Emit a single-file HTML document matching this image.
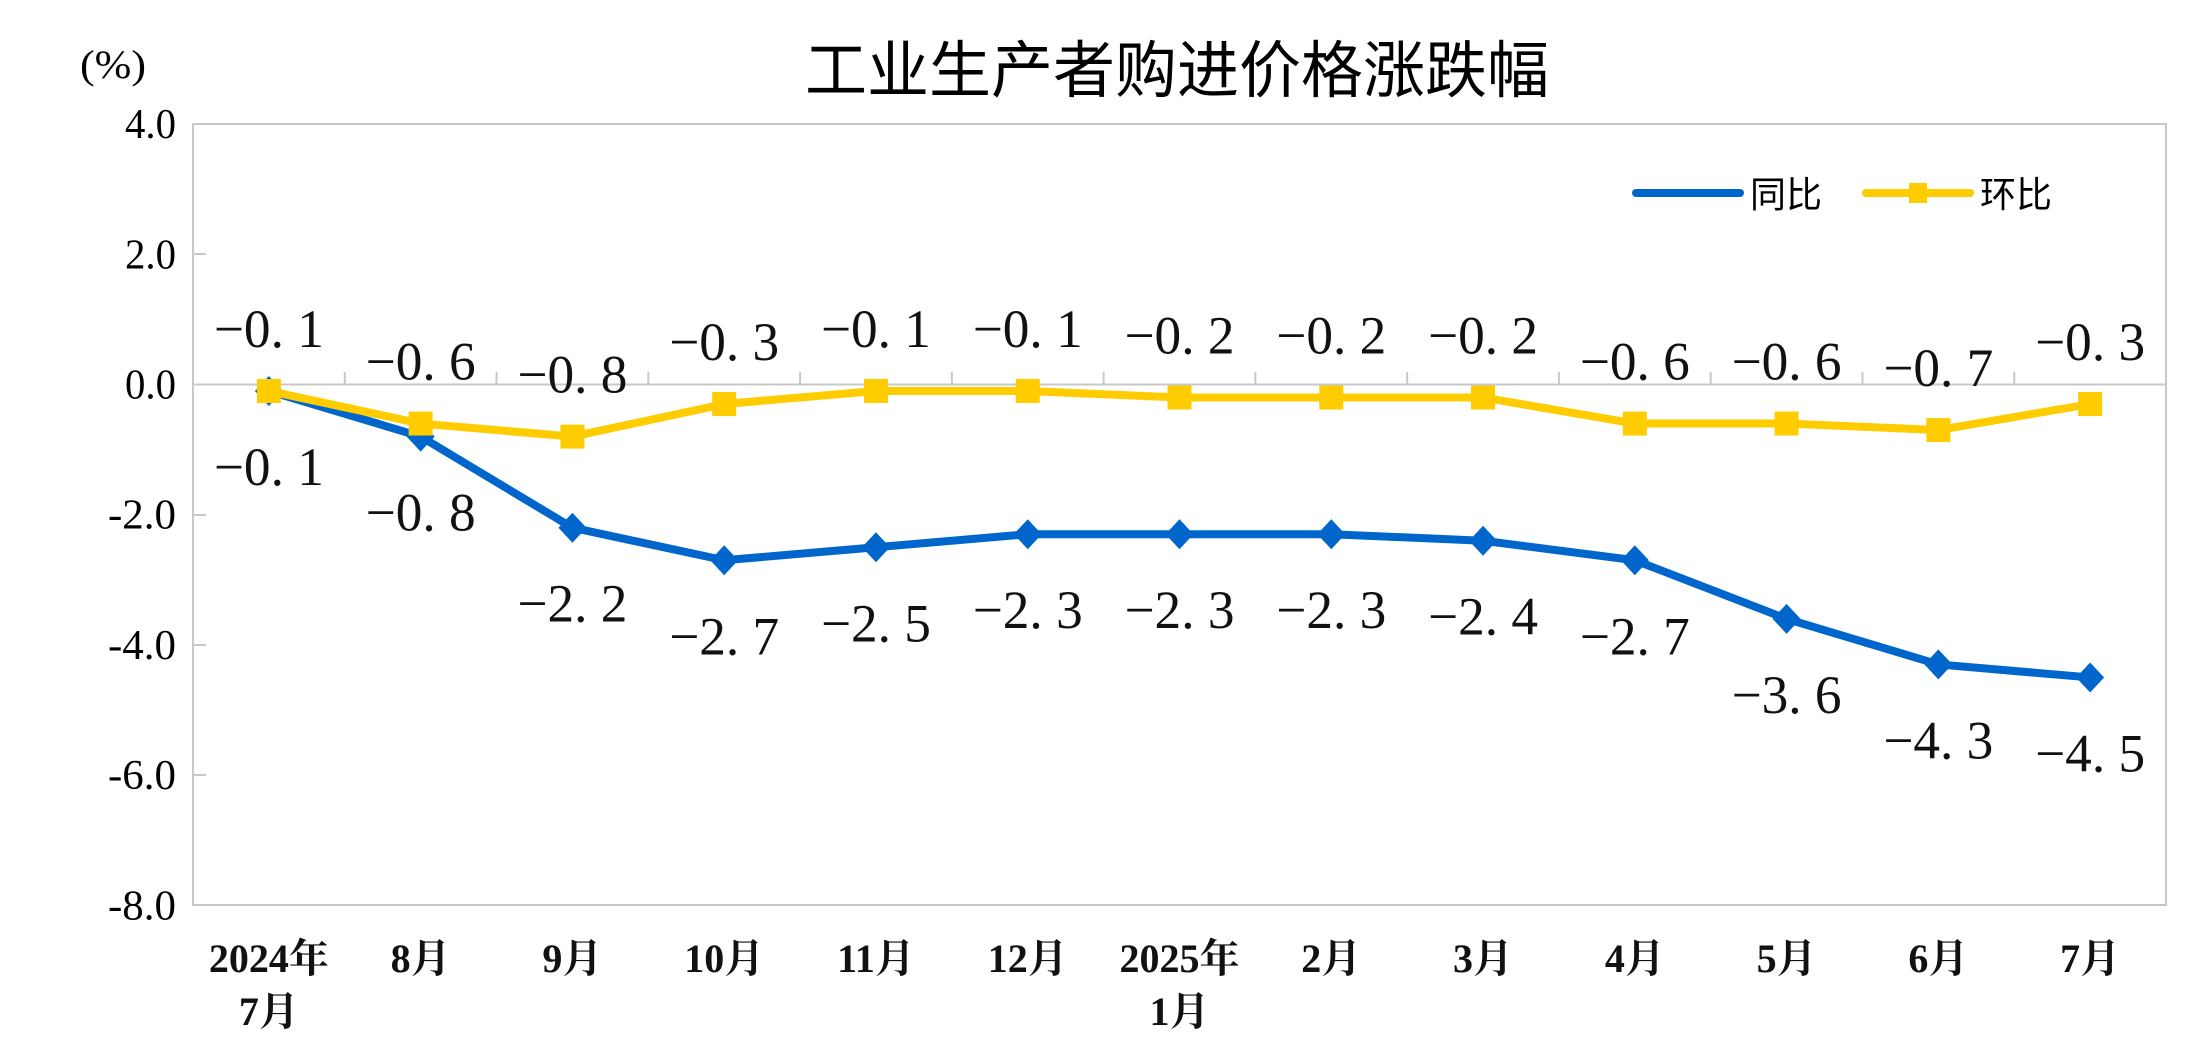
<!DOCTYPE html>
<html><head><meta charset="utf-8"><style>
html,body{margin:0;padding:0;background:#fff;}
svg{display:block;}
</style></head><body>
<svg width="2210" height="1060" viewBox="0 0 2210 1060" xmlns="http://www.w3.org/2000/svg">
<rect width="2210" height="1060" fill="#fff"/>
<text x="1177" y="92" font-family="'Liberation Sans','Noto Sans CJK SC',sans-serif" font-size="62" text-anchor="middle" fill="#000">工业生产者购进价格涨跌幅</text>
<text x="113" y="78" font-family="'Liberation Serif',serif" font-size="40" text-anchor="middle" fill="#000" textLength="66" lengthAdjust="spacingAndGlyphs">(%)</text>
<rect x="193" y="124" width="1973" height="781" fill="none" stroke="#c8c8c8" stroke-width="2"/>
<line x1="193" y1="384.5" x2="2166" y2="384.5" stroke="#c8c8c8" stroke-width="2"/>
<g stroke="#c8c8c8" stroke-width="2">
<line x1="193" y1="254" x2="206" y2="254"/><line x1="193" y1="515" x2="206" y2="515"/><line x1="193" y1="645" x2="206" y2="645"/><line x1="193" y1="775" x2="206" y2="775"/>
</g>
<g stroke="#c8c8c8" stroke-width="2" id="xt"></g>
<g font-family="'Liberation Serif',serif" font-size="42" text-anchor="end" fill="#000" id="yl"></g>
<g id="chart"></g>
<g>
<line x1="1636" y1="193" x2="1740" y2="193" stroke="#0066cc" stroke-width="8" stroke-linecap="round"/>
<text x="1750" y="207" font-family="'Liberation Sans','Noto Sans CJK SC',sans-serif" font-size="36" fill="#000">同比</text>
<line x1="1866" y1="193" x2="1970" y2="193" stroke="#ffcc00" stroke-width="8" stroke-linecap="round"/>
<rect x="1909" y="183" width="18" height="20" fill="#ffcc00"/>
<text x="1980" y="207" font-family="'Liberation Sans','Noto Sans CJK SC',sans-serif" font-size="36" fill="#000">环比</text>
</g>
<script>
var NS="http://www.w3.org/2000/svg";
var yoy=[-0.1,-0.8,-2.2,-2.7,-2.5,-2.3,-2.3,-2.3,-2.4,-2.7,-3.6,-4.3,-4.5];
var mom=[-0.1,-0.6,-0.8,-0.3,-0.1,-0.1,-0.2,-0.2,-0.2,-0.6,-0.6,-0.7,-0.3];
var lab=[["2024年","7月"],["8月"],["9月"],["10月"],["11月"],["12月"],["2025年","1月"],["2月"],["3月"],["4月"],["5月"],["6月"],["7月"]];
function X(i){return 193+151.77*(i+0.5);}
function Y(v){return 384.5-v*65.1;}
var c=document.getElementById("chart"),xt=document.getElementById("xt"),yl=document.getElementById("yl");
function el(t,a,p){var e=document.createElementNS(NS,t);for(var k in a)e.setAttribute(k,a[k]);(p||c).appendChild(e);return e;}
[4,2,0,-2,-4,-6,-8].forEach(function(v){var s=v.toFixed(1);var t=el("text",{x:176,y:Y(v)+14,textLength:s.length*17,lengthAdjust:"spacingAndGlyphs"},yl);t.textContent=s;});
for(var i=1;i<13;i++){var x=193+151.77*i;el("line",{x1:x,y1:372,x2:x,y2:384.5},xt);}
function pts(a){return a.map(function(v,i){return X(i)+","+Y(v);}).join(" ");}
el("polyline",{points:pts(yoy),fill:"none",stroke:"#0066cc","stroke-width":8,"stroke-linejoin":"round"});
yoy.forEach(function(v,i){var x=X(i),y=Y(v);el("polygon",{points:(x)+","+(y-15)+" "+(x+14)+","+y+" "+x+","+(y+15)+" "+(x-14)+","+y,fill:"#0066cc"});});
el("polyline",{points:pts(mom),fill:"none",stroke:"#ffcc00","stroke-width":8,"stroke-linejoin":"round"});
mom.forEach(function(v,i){var x=X(i),y=Y(v);el("rect",{x:x-12,y:y-12,width:24,height:24,fill:"#ffcc00"});});
function fmt(v){return "−"+Math.abs(v).toFixed(1).replace(".",". ");}
function lbl(v,i,y){var t=el("text",{x:X(i),y:y,"font-family":"'Liberation Serif',serif","font-size":54,"text-anchor":"middle",fill:"#111",textLength:110,lengthAdjust:"spacingAndGlyphs"});t.textContent=fmt(v);}
mom.forEach(function(v,i){lbl(v,i,Y(v)-44);});
yoy.forEach(function(v,i){lbl(v,i,Y(v)+94);});
lab.forEach(function(l,i){l.forEach(function(s,j){var t=el("text",{x:X(i),y:972+j*53,"font-family":"'Liberation Serif','Noto Serif CJK SC',serif","font-size":40,"font-weight":"bold","text-anchor":"middle",fill:"#111"});t.textContent=s;});});
</script>
</svg>
</body></html>
